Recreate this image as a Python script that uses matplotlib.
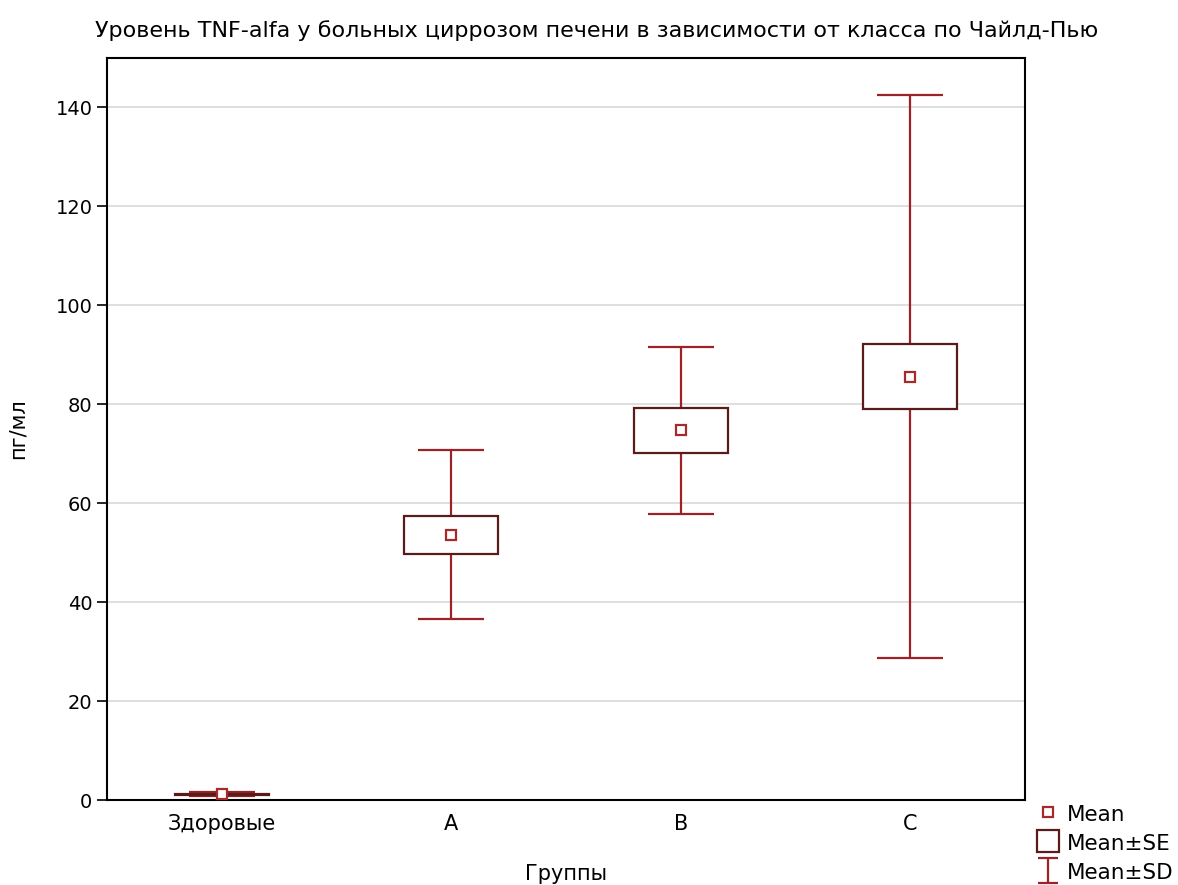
import numpy as np
import matplotlib
matplotlib.use("Agg")
import matplotlib.pyplot as plt
from matplotlib.lines import Line2D
from matplotlib.path import Path

# --- data ---
groups = ["Здоровые", "A", "B", "C"]
means = [1.2, 53.6, 74.7, 85.6]
se = [0.1, 3.9, 4.45, 6.6]
sd = [0.4, 17.1, 16.9, 56.9]

whisker_color = "#9b2226"
box_color = "#5a1b1b"
mean_color = "#a52a2a"

plt.rcParams["font.family"] = ["DejaVu Sans"]

fig = plt.figure(figsize=(11.78, 8.85), dpi=100)
ax = fig.add_axes([0.0908, 0.096, 0.7795, 0.8385])

x = np.arange(len(groups))
means = np.array(means)
se = np.array(se)
sd = np.array(sd)

# Mean±SD whiskers
ax.errorbar(x, means, yerr=sd, fmt="none", ecolor=whisker_color,
            elinewidth=1.6, capsize=23.5, capthick=1.6, zorder=2)

# Mean±SE boxes
ax.bar(x, 2 * se, bottom=means - se, width=0.41, facecolor="white",
       edgecolor=box_color, linewidth=1.6, zorder=3)

# Mean markers
ax.plot(x, means, linestyle="none", marker="s", markersize=7.5,
        markerfacecolor="white", markeredgecolor=mean_color,
        markeredgewidth=1.6, zorder=4)

ax.set_xlim(-0.5, 3.5)
ax.set_ylim(0, 150)
ax.set_yticks(np.arange(0, 141, 20))
ax.set_xticks(x)
ax.set_xticklabels(groups)
ax.tick_params(axis="y", labelsize=14, length=7, width=1.2, color="black")
ax.tick_params(axis="x", labelsize=15, length=0, pad=10)
ax.yaxis.grid(True, color="#d9d9d9", linewidth=1.2)
ax.set_axisbelow(True)
for s in ax.spines.values():
    s.set_linewidth(1.5)
    s.set_color("black")

ax.set_xlabel("Группы", fontsize=15, labelpad=22)
ax.set_ylabel("пг/мл", fontsize=15, labelpad=20)
fig.suptitle("Уровень TNF-alfa у больных циррозом печени в зависимости от класса по Чайлд-Пью",
             x=597 / 1178, y=0.977, fontsize=16)

# legend outside, bottom right; I-beam marker for Mean±SD
ibeam = Path([(-0.8, -1), (0.8, -1), (0, -1), (0, 1), (-0.8, 1), (0.8, 1)],
             [Path.MOVETO, Path.LINETO, Path.MOVETO, Path.LINETO, Path.MOVETO, Path.LINETO])
handles = [
    Line2D([], [], linestyle="none", marker="s", markersize=7,
           markerfacecolor="white", markeredgecolor=mean_color, markeredgewidth=1.6),
    Line2D([], [], linestyle="none", marker="s", markersize=16,
           markerfacecolor="white", markeredgecolor=box_color, markeredgewidth=1.6),
    Line2D([], [], linestyle="none", marker=ibeam, markersize=18,
           markerfacecolor="none", markeredgecolor=whisker_color, markeredgewidth=1.6),
]
fig.legend(handles, ["Mean", "Mean±SE", "Mean±SD"], loc="upper left",
           bbox_to_anchor=(1020 / 1178, 1 - 788 / 885), frameon=False,
           fontsize=15.5, handlelength=1.2, handleheight=1.2, handletextpad=0.3,
           labelspacing=0.3, borderpad=0.2)

fig.savefig("out.png", dpi=100)
